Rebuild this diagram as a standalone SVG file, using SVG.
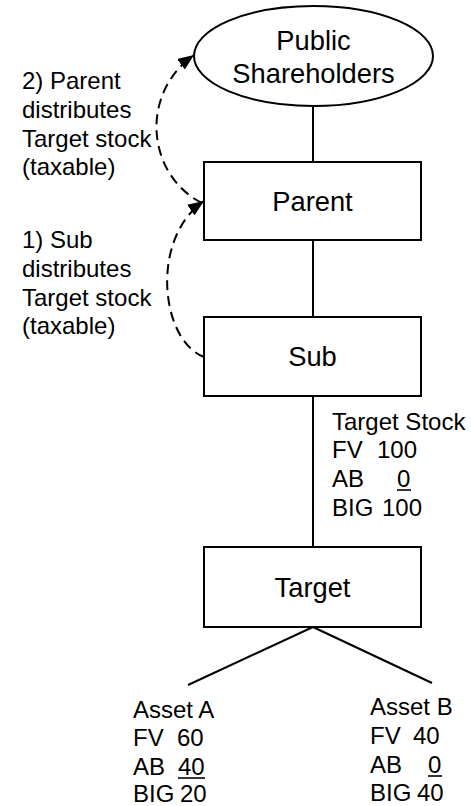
<svg xmlns="http://www.w3.org/2000/svg" width="471" height="806" viewBox="0 0 471 806">
  <style>
    .box { fill: #fff; stroke: #000; stroke-width: 2; }
    .link { fill: none; stroke: #000; stroke-width: 2; }
    .flow { fill: none; stroke: #000; stroke-width: 2; stroke-dasharray: 10 6; }
    .label { font-family: "Liberation Sans", Arial, sans-serif; font-size: 27.3px; fill: #000; text-anchor: middle; }
    .note { font-family: "Liberation Sans", Arial, sans-serif; font-size: 24px; fill: #000; }
    .ul { stroke: #000; stroke-width: 1.6; }
  </style>
  <defs>
    <marker id="arrow" markerUnits="userSpaceOnUse" markerWidth="17" markerHeight="13" refX="16" refY="6.5" orient="auto">
      <path d="M0,0 L16,6.5 L0,13 Z" fill="#000"/>
    </marker>
  </defs>

  <!-- connectors -->
  <g id="connectors">
    <line class="link" x1="313" y1="106" x2="313" y2="162"/>
    <line class="link" x1="313" y1="240" x2="313" y2="317"/>
    <line class="link" x1="313" y1="396" x2="313" y2="547"/>
    <line class="link" x1="313" y1="627" x2="188" y2="685"/>
    <line class="link" x1="313" y1="627" x2="432" y2="683"/>
    <path class="flow" d="M202,203 C148,176 138,95 194,55" marker-end="url(#arrow)"/>
    <path class="flow" d="M204,357 C160,340 150,238 204,201" marker-end="url(#arrow)"/>
  </g>

  <g id="public-shareholders">
    <ellipse class="box" cx="313.5" cy="56" rx="119.5" ry="50"/>
    <text class="label" x="313.5" y="50">Public</text>
    <text class="label" x="313.5" y="83">Shareholders</text>
  </g>

  <g id="parent">
    <rect class="box" x="204" y="162" width="217" height="78"/>
    <text class="label" x="312.5" y="211">Parent</text>
  </g>

  <g id="sub">
    <rect class="box" x="204" y="317" width="217" height="79"/>
    <text class="label" x="312.5" y="366">Sub</text>
  </g>

  <g id="target">
    <rect class="box" x="204" y="547" width="217" height="80"/>
    <text class="label" x="312.5" y="597">Target</text>
  </g>

  <!-- step notes -->
  <g id="note-step2">
    <text class="note" x="22" y="89">2) Parent</text>
    <text class="note" x="22" y="118">distributes</text>
    <text class="note" x="22" y="147">Target stock</text>
    <text class="note" x="22" y="175">(taxable)</text>
  </g>
  <g id="note-step1">
    <text class="note" x="22" y="248">1) Sub</text>
    <text class="note" x="22" y="277">distributes</text>
    <text class="note" x="22" y="306">Target stock</text>
    <text class="note" x="22" y="334">(taxable)</text>
  </g>

  <!-- value tables -->
  <g id="target-stock">
    <text class="note" x="332" y="430">Target Stock</text>
    <text class="note" x="332" y="458">FV<tspan x="377">100</tspan></text>
    <text class="note" x="332" y="487">AB<tspan x="397">0</tspan></text>
    <line class="ul" x1="397" y1="490" x2="411" y2="490"/>
    <text class="note" x="332" y="516">BIG<tspan x="382">100</tspan></text>
  </g>

  <g id="asset-a">
    <text class="note" x="133" y="718">Asset A</text>
    <text class="note" x="133" y="746">FV<tspan x="177">60</tspan></text>
    <text class="note" x="133" y="775">AB<tspan x="178">40</tspan></text>
    <line class="ul" x1="178" y1="778" x2="205" y2="778"/>
    <text class="note" x="133" y="802">BIG<tspan x="180">20</tspan></text>
  </g>

  <g id="asset-b">
    <text class="note" x="370" y="715">Asset B</text>
    <text class="note" x="370" y="744">FV<tspan x="413">40</tspan></text>
    <text class="note" x="370" y="773">AB<tspan x="428">0</tspan></text>
    <line class="ul" x1="428" y1="776" x2="442" y2="776"/>
    <text class="note" x="370" y="801">BIG<tspan x="417">40</tspan></text>
  </g>
</svg>
